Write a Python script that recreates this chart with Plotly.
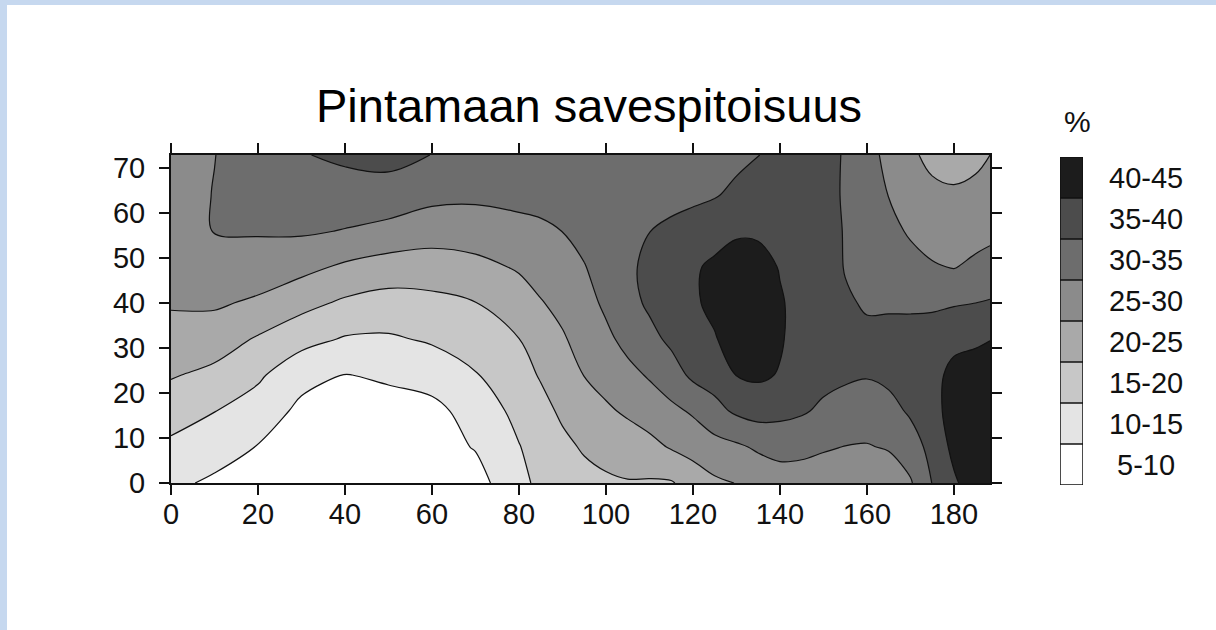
import plotly.graph_objects as go

# Sampling positions of the clay-content field (m)
x_pos = [0, 10, 20, 30, 40, 50, 60, 70, 80, 85, 90, 95, 100, 105, 110, 115, 120,
         125, 130, 135, 140, 145, 150, 155, 160, 165, 170, 175, 180, 185, 188.3]
y_pos = [0, 8, 16, 24, 32, 40, 48, 56, 64, 72.9]

# Clay content (%) – one row per y position, bottom to top
clay_y0 = [11.0, 9.2, 7.0, 6.0, 5.5, 5.8, 6.5, 8.0, 13.8, 16.0, 17.0, 18.5, 19.3, 19.7, 19.5, 19.6,
           22.0, 24.2, 25.1, 26.5, 27.5, 28.0, 27.5, 27.0, 25.5, 27.0, 29.5, 35.1, 39.3, 42.5, 43.5]
clay_y8 = [14.0, 12.1, 9.8, 7.5, 7.0, 7.3, 7.9, 10.3, 14.8, 17.0, 18.9, 20.5, 21.5, 22.5, 23.6, 25.4,
           26.9, 28.2, 29.2, 30.7, 31.7, 31.1, 30.45, 29.9, 29.7, 30.4, 32.6, 36.6, 41.2, 43.0, 43.5]
clay_y16 = [17.2, 15.1, 12.7, 8.9, 8.4, 8.7, 8.6, 12.0, 16.4, 18.5, 20.8, 22.8, 24.3, 25.7, 27.25, 28.9,
            30.6, 33.5, 35.8, 36.9, 36.35, 35.6, 34.05, 32.9, 32.6, 33.3, 35.7, 38.0, 42.3, 43.0, 43.0]
clay_y24 = [20.4, 18.75, 15.8, 11.5, 9.9, 10.5, 12.0, 14.7, 18.2, 20.4, 22.6, 25.1, 26.7, 28.6, 30.5, 32.8,
            36.0, 37.1, 40.1, 40.8, 39.7, 37.0, 36.5, 35.8, 35.3, 36.2, 37.2, 38.3, 41.5, 42.0, 42.0]
clay_y32 = [23.4, 22.4, 19.5, 16.7, 14.6, 14.4, 15.6, 17.3, 19.95, 22.5, 24.5, 26.8, 28.9, 31.5, 33.6, 36.0,
            38.0, 39.7, 42.0, 43.0, 40.5, 38.0, 37.3, 36.2, 35.8, 36.4, 36.6, 37.3, 38.6, 39.3, 39.9]
clay_y40 = [25.4, 25.65, 24.2, 21.5, 19.2, 18.2, 18.7, 19.9, 22.7, 24.7, 26.3, 28.2, 30.9, 33.4, 35.8, 37.0,
            39.4, 41.0, 43.0, 43.5, 40.5, 38.3, 37.5, 35.5, 34.6, 34.4, 34.3, 34.2, 34.6, 35.0, 35.4]
clay_y48 = [26.1, 27.8, 27.8, 26.4, 24.2, 22.6, 22.6, 23.6, 25.5, 26.9, 28.2, 29.8, 31.8, 34.2, 36.0, 37.0,
            39.3, 41.0, 42.0, 42.0, 39.7, 37.8, 37.0, 34.8, 33.7, 32.9, 31.7, 30.4, 29.8, 31.0, 31.6]
clay_y56 = [26.9, 30.2, 30.4, 30.6, 29.8, 28.8, 27.2, 27.5, 28.5, 29.1, 30.05, 31.3, 32.2, 33.6, 34.95, 35.8,
            37.0, 37.9, 39.4, 39.2, 38.7, 37.2, 36.3, 34.8, 33.0, 31.4, 29.4, 28.2, 27.8, 28.3, 28.9]
clay_y64 = [27.6, 30.2, 31.6, 32.5, 32.6, 32.4, 31.3, 30.9, 31.4, 31.6, 32.1, 32.8, 32.5, 33.0, 33.5, 33.8,
            34.0, 34.7, 35.9, 36.9, 37.6, 36.8, 35.8, 34.75, 32.4, 29.9, 27.7, 26.1, 25.6, 26.1, 27.0]
clay_y73 = [28.5, 29.9, 33.0, 34.7, 36.0, 36.9, 34.9, 33.5, 33.6, 33.8, 33.8, 33.7, 33.0, 33.2, 33.0, 33.5,
            33.0, 33.5, 34.0, 34.9, 36.3, 36.5, 35.6, 34.85, 32.0, 28.5, 25.8, 23.8, 23.3, 24.0, 25.0]

clay = [clay_y0, clay_y8, clay_y16, clay_y24, clay_y32, clay_y40, clay_y48, clay_y56, clay_y64, clay_y73]

# Classes shown in the key, lowest first
band_labels = ["5-10", "10-15", "15-20", "20-25", "25-30", "30-35", "35-40", "40-45"]
band_colors = ["#ffffff", "#e4e4e4", "#c7c7c7", "#a9a9a9", "#8b8b8b", "#6d6d6d", "#4c4c4c", "#1c1c1c"]

x_ticks = [0, 20, 40, 60, 80, 100, 120, 140, 160, 180]
y_ticks = [0, 10, 20, 30, 40, 50, 60, 70]

W, H = 1216, 630
ML, MR, MT, MB = 171, 20, 155, 145
PW, PH = W - ML - MR, H - MT - MB


def px_x(px):
    return (px - ML) / PW


def px_y(py):
    return (H - MB - py) / PH


# Stepped colour scale for the filled contours: band below 5, eight classes, band above 45
fill_cols = [band_colors[0]] + band_colors + [band_colors[-1]]
contour_scale = []
for k, c in enumerate(fill_cols):
    contour_scale += [[max(0.0, (2 * k - 1) / 18), c], [min(1.0, (2 * k + 1) / 18), c]]

key_scale = []
for k, c in enumerate(band_colors):
    key_scale += [[k / len(band_colors), c], [(k + 1) / len(band_colors), c]]

sans = "Liberation Sans, Arial, sans-serif"

fig = go.Figure()

fig.add_trace(go.Contour(
    x=x_pos, y=y_pos, z=clay,
    contours=dict(start=5, end=45, size=5, coloring="fill", showlines=True),
    line=dict(color="#111111", width=1.2, smoothing=1.0),
    colorscale=contour_scale, showscale=False, hoverinfo="skip",
    xaxis="x", yaxis="y",
))

# Class key as a one-column heatmap
fig.add_trace(go.Heatmap(
    x=[0], y=list(range(len(band_labels))), z=[[i] for i in range(len(band_labels))],
    colorscale=key_scale, zmin=-0.5, zmax=len(band_labels) - 0.5,
    showscale=False, hoverinfo="skip", xaxis="x2", yaxis="y2",
))

shapes = [
    # light-blue page frame
    dict(type="rect", xref="paper", yref="paper", x0=px_x(0), x1=px_x(7), y0=px_y(630), y1=px_y(0),
         fillcolor="#c6d8ef", line=dict(width=0), layer="below"),
    dict(type="rect", xref="paper", yref="paper", x0=px_x(0), x1=px_x(1216), y0=px_y(5), y1=px_y(0),
         fillcolor="#c6d8ef", line=dict(width=0), layer="below"),
    # key outline and separators
    dict(type="rect", xref="x2", yref="y2", x0=-0.5, x1=0.5, y0=-0.5, y1=len(band_labels) - 0.5,
         line=dict(color="#111111", width=1.5)),
]
for i in range(len(band_labels) - 1):
    shapes.append(dict(type="line", xref="x2", yref="y2", x0=-0.5, x1=0.5, y0=i + 0.5, y1=i + 0.5,
                       line=dict(color="#111111", width=1.5)))

annotations = [dict(text="%", xref="paper", yref="paper", x=px_x(1077.5), y=px_y(121.5),
                    xanchor="center", yanchor="middle", showarrow=False,
                    font=dict(family=sans, size=30, color="#111111"))]
for i, lab in enumerate(band_labels):
    annotations.append(dict(text=lab, xref="paper", yref="y2", x=px_x(1146), y=i,
                            xanchor="center", yanchor="middle", showarrow=False,
                            font=dict(family=sans, size=29, color="#111111")))

axis_common = dict(showgrid=False, zeroline=False, showline=True, linecolor="#111111", linewidth=2,
                   mirror="ticks", ticks="outside", ticklen=10, tickwidth=1.5, tickcolor="#111111",
                   tickfont=dict(family=sans, size=29, color="#111111"))

fig.update_layout(
    width=W, height=H,
    margin=dict(l=ML, r=MR, t=MT, b=MB),
    paper_bgcolor="white", plot_bgcolor="white",
    title=dict(text="Pintamaan savespitoisuus", x=589 / W, xref="container", xanchor="center",
               y=1 - 106 / H, yref="container", yanchor="middle",
               font=dict(family=sans, size=47, color="black")),
    xaxis=dict(domain=[0, px_x(990)], range=[0, 188.3], tickmode="array", tickvals=x_ticks,
               anchor="y", ticklabelstandoff=-6, **axis_common),
    yaxis=dict(domain=[px_y(483), 1.0], range=[0, 72.9], tickmode="array", tickvals=y_ticks,
               anchor="x", ticklabelstandoff=8, **axis_common),
    xaxis2=dict(domain=[px_x(1060), px_x(1083)], range=[-0.5, 0.5], visible=False, anchor="y2"),
    yaxis2=dict(domain=[px_y(485), px_y(157)], range=[-0.5, len(band_labels) - 0.5], visible=False,
                anchor="x2"),
    shapes=shapes, annotations=annotations, showlegend=False,
)

fig.write_html("out.html")
